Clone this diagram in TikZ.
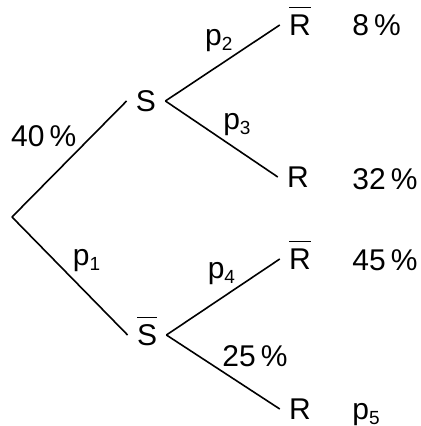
\documentclass[tikz,border=0pt]{standalone}
\usepackage{fontspec}
\setmainfont{Liberation Sans}
\usepackage{tikz}
\usetikzlibrary{positioning}
\tikzset{outcome/.style={draw=none, inner sep=0pt, inner xsep=4.5pt, text height=10.7pt, text depth=0pt}}
\tikzset{
  branch/.style={black, line width=0.8pt},
  leaf/.style={draw=none, inner sep=0pt, anchor=base west}
}
\newcommand\nicht[1]{\vbox{\hrule height 0.5pt\kern 3.5pt\hbox{#1}}}
\newcommand\pvar[1]{p\raisebox{-2.5pt}{\fontsize{9.5}{10}\selectfont #1}}
\newcommand\pct[1]{#1\,\%}

\begin{document}
\begin{tikzpicture}[x=0.5pt, y=-0.5pt, inner sep=1pt, font=\fontsize{15}{18}\selectfont]
\useasboundingbox (0,0) rectangle (420,426);

\coordinate (root) at (12,217);

\node[outcome](s) at (146,101) {S};

\node[outcome](sb) at (147,335) {\nicht{S}};

\node[outcome](rb1) at (300,25) {\nicht{R}};

\node[outcome](r1) at (298,177) {R};

\node[outcome](rb2) at (300,259) {\nicht{R}};

\node[outcome](r2) at (300,409) {R};

\node[leaf](v1) at (352,36) {\pct{8}};
\node[leaf](v2) at (352,190) {\pct{32}};
\node[leaf](v3) at (352,270) {\pct{45}};
\node[leaf](v4) at (352,419) {\pvar{5}};

\draw[branch] (root) to[auto, pos=0.585] node (l1) {\pct{40}} (s.west);

\draw[branch] (root) to[auto, pos=0.49, xshift=1.5pt] node (l2) {\pvar{1}} (sb.west);

\draw[branch] (s.east) to[auto, pos=0.61] node (l3) {\pvar{2}} (rb1.west);

\draw[branch] (s.east) to[auto, pos=0.49] node (l4) {\pvar{3}} (r1.west);

\draw[branch] (sb.east) to[auto, pos=0.63] node (l5) {\pvar{4}} (rb2.west);

\draw[branch] (sb.east) to[auto, pos=0.47] node (l6) {\pct{25}} (r2.west);
\end{tikzpicture}
\end{document}
